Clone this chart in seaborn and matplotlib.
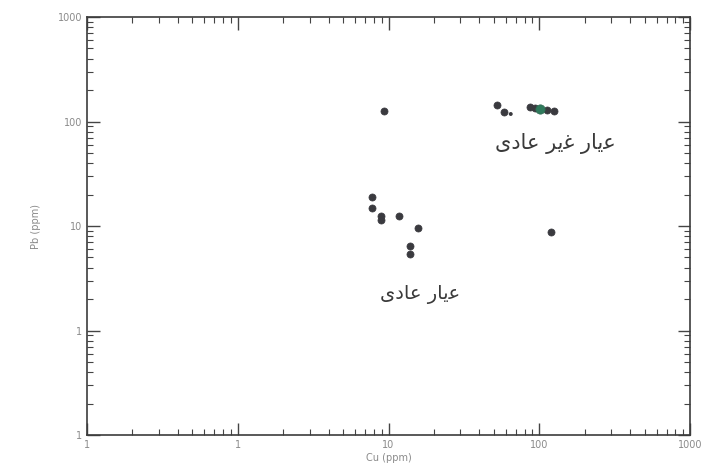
import matplotlib
matplotlib.use("Agg")
import matplotlib.pyplot as plt
import seaborn as sns
import pandas as pd
from matplotlib.ticker import FixedLocator, LogLocator, NullFormatter

# Cu / Pb assay values (ppm)
cu_ppm = [7.8, 7.8, 8.85, 8.85, 11.8, 15.8, 13.8, 13.8, 119, 9.4,
          52.2, 58.1, 86.5, 93.3, 112, 125]
pb_ppm = [18.9, 14.9, 12.5, 11.4, 12.5, 9.6, 6.4, 5.4, 8.8, 126,
          144, 123, 138, 135, 129, 126]

# faint sample in the anomalous cluster
faint_cu = [64.7]
faint_pb = [118]

# highlighted sample
green_cu = [101]
green_pb = [131]

tick_values = [0.1, 1, 10, 100, 1000]
x_tick_labels = ["1", "1", "10", "100", "1000"]
y_tick_labels = ["1", "1", "10", "100", "1000"]

label_anomalous = "\uFEEF\uFEA9\uFE8E\uFECB \uFEAE\uFBFE\uFECF \uFEAD\uFE8E\uFBFE\uFECB"  # عیار غیر عادی
label_normal = "\uFBFC\uFEA9\uFE8E\uFECB \uFEAD\uFE8E\uFBFE\uFECB"  # عیار عادی

df = pd.DataFrame({"Cu": cu_ppm, "Pb": pb_ppm})
df_faint = pd.DataFrame({"Cu": faint_cu, "Pb": faint_pb})
df_green = pd.DataFrame({"Cu": green_cu, "Pb": green_pb})

sns.set_style("white")
plt.rcParams["font.family"] = ["DejaVu Sans", "Noto Sans"]

fig = plt.figure(figsize=(7.03, 4.71), dpi=100)
ax = fig.add_axes([0.1238, 0.0764, 0.8577, 0.8875])

sns.scatterplot(data=df, x="Cu", y="Pb", ax=ax, color="#3a3a3f", s=26,
                edgecolor="#3a3a3f", linewidth=0.5, zorder=3)
sns.scatterplot(data=df_faint, x="Cu", y="Pb", ax=ax, color="#3a3a3f", s=8,
                edgecolor="none", zorder=3)
sns.scatterplot(data=df_green, x="Cu", y="Pb", ax=ax, color="#2f7a5c", s=45,
                edgecolor="#2f6a52", linewidth=0.5, zorder=4)

ax.set_xscale("log")
ax.set_yscale("log")
ax.set_xlim(0.1, 1000)
ax.set_ylim(0.1, 1000)

ax.xaxis.set_major_locator(FixedLocator(tick_values))
ax.yaxis.set_major_locator(FixedLocator(tick_values))
ax.set_xticklabels(x_tick_labels)
ax.set_yticklabels(y_tick_labels)
ax.xaxis.set_minor_locator(LogLocator(base=10, subs=range(2, 10), numticks=20))
ax.yaxis.set_minor_locator(LogLocator(base=10, subs=range(2, 10), numticks=20))
ax.xaxis.set_minor_formatter(NullFormatter())
ax.yaxis.set_minor_formatter(NullFormatter())

ax.tick_params(which="both", direction="in", top=True, right=True,
               bottom=True, left=True, colors="#444444",
               labelcolor="#8a8a8a", labelsize=7)
ax.tick_params(which="major", length=9, width=1.0)
ax.tick_params(which="minor", length=4, width=0.8)

for side in ["left", "right", "top", "bottom"]:
    ax.spines[side].set_visible(True)
    ax.spines[side].set_color("#3c3c3c")
    ax.spines[side].set_linewidth(1.2)

ax.set_xlabel("Cu (ppm)", fontsize=7, color="#8a8a8a", labelpad=2)
ax.set_ylabel("Pb (ppm)", fontsize=7, color="#8a8a8a", labelpad=12)

ax.text(128, 62, label_anomalous, fontsize=15, color="#3a3a3a",
        ha="center", va="center")
ax.text(16.1, 2.2, label_normal, fontsize=14, color="#3a3a3a",
        ha="center", va="center")

fig.savefig("out.png", dpi=100, facecolor="white")
